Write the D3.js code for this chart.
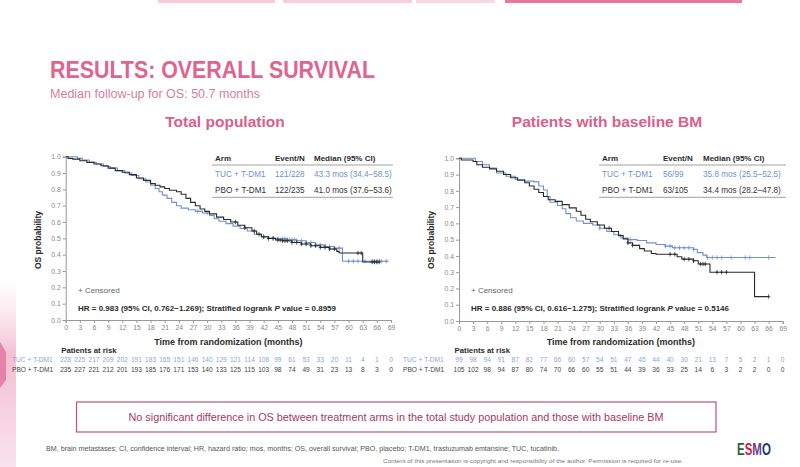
<!DOCTYPE html>
<html>
<head>
<meta charset="utf-8">
<script src="https://cdn.jsdelivr.net/npm/d3@7"></script>
<style>
  body { margin: 0; background: #fff; }
  svg { display: block; font-family: "Liberation Sans", Arial, sans-serif; }
</style>
</head>
<body>
<svg id="chart" width="800" height="467"></svg>
<script>
// Data.
const months = d3.range(0, 70, 3)

// Total population: step points [month, OS probability].
const totTuc = [[0,1],[2.5,0.99],[3.5,0.98],[5,0.965],[6.5,0.955],[8,0.94],[9.5,0.93],[11,0.915],[12.5,0.9],[14,0.885],[15.5,0.865],[17,0.845],[18,0.825],[19,0.805],[19.8,0.785],[20.5,0.765],[21.5,0.745],[22.5,0.72],[23.5,0.7],[24.5,0.685],[26,0.675],[27.5,0.665],[29,0.655],[30.5,0.64],[31.5,0.62],[32.5,0.605],[34,0.59],[35.5,0.575],[37,0.56],[38.5,0.545],[40,0.525],[41.5,0.51],[43,0.5],[45,0.497],[47,0.492],[49,0.485],[51,0.475],[53,0.46],[55,0.45],[57,0.44],[58.7,0.36],[68.5,0.36]]
const totPbo = [[0,1],[0.5,0.99],[1.5,0.985],[3,0.975],[4.5,0.965],[6,0.955],[7.5,0.945],[9,0.93],[10.5,0.915],[12,0.905],[13.5,0.89],[15,0.87],[16.5,0.855],[18,0.835],[19,0.825],[20,0.815],[21,0.805],[22,0.795],[23.5,0.785],[24.5,0.77],[25.5,0.745],[26.5,0.72],[27.5,0.7],[28.5,0.68],[29.5,0.665],[30.5,0.65],[32,0.63],[33.5,0.615],[35,0.6],[36.5,0.58],[38,0.565],[39.5,0.545],[40.5,0.525],[41.5,0.51],[43,0.5],[44.5,0.49],[46,0.485],[48,0.475],[50,0.465],[52,0.455],[54,0.445],[56,0.435],[57.5,0.42],[58,0.41],[63,0.355],[66.5,0.355]]
const totTucCens = [28,30,42,43,44,45,46,46.5,47,47.5,48,48.5,49,50,51,52,53,54,55,56,57,58,60,61,62,63.5,65,65.5,66,66.5,67,68]
const totPboCens = [36,38,40,41,42,43,44,45,45.5,46,46.5,47,48,49,50,51,52,53,54,55,56,57,62,62.7,65,65.5,66,66.5]

// Patients with baseline BM.
const bmTuc = [[0,1],[3.5,0.98],[5,0.96],[6.5,0.94],[8,0.91],[10,0.89],[12,0.87],[14,0.86],[16,0.855],[17,0.83],[18,0.805],[18.8,0.765],[19.4,0.73],[21,0.71],[22,0.69],[22.8,0.66],[23.8,0.635],[25,0.615],[26.5,0.6],[28.5,0.59],[30,0.57],[31.5,0.55],[33,0.53],[34.5,0.51],[36,0.5],[38,0.495],[40,0.48],[42,0.47],[44,0.46],[45.5,0.45],[50,0.44],[50.8,0.42],[52,0.405],[52.8,0.39],[67.5,0.39]]
const bmPbo = [[0,1],[0.5,0.99],[3,0.98],[3.8,0.96],[5,0.945],[6.5,0.935],[8,0.92],[9.5,0.9],[11,0.88],[12.5,0.865],[14,0.85],[15,0.83],[16,0.81],[17,0.79],[18,0.765],[19,0.745],[20.5,0.735],[22,0.715],[23.5,0.695],[25,0.675],[26,0.65],[27,0.625],[28,0.61],[29.5,0.59],[31,0.57],[32.5,0.55],[34,0.525],[35,0.505],[36,0.48],[37,0.465],[38.5,0.445],[39.5,0.43],[41,0.415],[42,0.41],[46.5,0.395],[47.5,0.38],[50,0.37],[51,0.35],[53.5,0.3],[63,0.15],[66,0.15]]
const bmTucCens = [30,36.5,44,45,46,47,48,49,50,53,54,55,56,58,61,62,66]
const bmPboCens = [32,36,37,45,46,48,49,50,51.5,52,52.5,55,56,57,66]

// Numbers at risk.
const totTucRisk = [228,225,217,209,202,191,183,165,151,146,140,129,121,114,108,99,61,53,33,20,11,4,1,0]
const totPboRisk = [235,227,221,212,201,193,185,176,171,153,140,133,125,115,103,98,74,49,31,23,13,8,3,0]
const bmTucRisk = [99,98,94,91,87,82,77,66,60,57,54,51,47,45,44,40,30,21,13,7,5,2,1,0]
const bmPboRisk = [105,102,98,94,87,80,74,70,66,60,55,51,44,39,36,33,25,14,6,3,2,2,0,0]

// Legend tables.
const totRows = [['TUC + T-DM1', '121/228', '43.3 mos (34.4\u201358.5)'], ['PBO + T-DM1', '122/235', '41.0 mos (37.6\u201353.6)']]
const bmRows = [['TUC + T-DM1', '56/99', '35.8 mos (25.5\u201352.5)'], ['PBO + T-DM1', '63/105', '34.4 mos (28.2\u201347.8)']]

const blue = '#6f93c9'
const dark = '#2b2b2b'
const pink = '#e0648e'

const svg = d3.select('#chart')

// Background decoration.
const defs = svg.append('defs')
const grad = defs.append('linearGradient').attr('id', 'edge').attr('x1', 0).attr('x2', 0).attr('y1', 0).attr('y2', 1)
grad.append('stop').attr('offset', '0%').attr('stop-color', '#f7d6e2').attr('stop-opacity', 0)
grad.append('stop').attr('offset', '40%').attr('stop-color', '#f3c0d3')
grad.append('stop').attr('offset', '100%').attr('stop-color', '#f9e3ec')
svg.append('rect').attr('x', 0).attr('y', 280).attr('width', 16).attr('height', 187).attr('fill', 'url(#edge)')
svg.append('path').attr('d', 'M0,342 L6,352 L6,380 L0,388 Z').attr('fill', '#e882a8')

const topBars = [[158, 275, '#f6cbda'], [283, 412, '#f5cfdc'], [416, 495, '#f7d7e3'], [505, 742, '#e8769e']]
svg.selectAll('.topbar').data(topBars).enter().append('rect')
  .attr('x', d => d[0]).attr('y', 0).attr('width', d => d[1] - d[0]).attr('height', 3)
  .attr('fill', d => d[2])

// Titles.
svg.append('text').attr('x', 50).attr('y', 78).attr('font-size', 23).attr('font-weight', 'bold')
  .attr('fill', pink).attr('textLength', 325).attr('lengthAdjust', 'spacingAndGlyphs')
  .text('RESULTS: OVERALL SURVIVAL')
svg.append('text').attr('x', 50).attr('y', 98).attr('font-size', 12.5)
  .attr('fill', '#d67ea0').attr('textLength', 210).attr('lengthAdjust', 'spacingAndGlyphs')
  .text('Median follow-up for OS: 50.7 months')

// One Kaplan-Meier panel.
function panel(opt) {
  const x = d3.scaleLinear().domain([0, 69]).range([opt.x0, opt.x1])
  const y = d3.scaleLinear().domain([0, 1]).range([opt.yb, opt.yt])

  svg.append('text').attr('x', opt.titleX).attr('y', 127).attr('text-anchor', 'middle')
    .attr('font-size', 15.5).attr('font-weight', 'bold').attr('fill', '#d9608b')
    .text(opt.title)

  const yAxis = svg.append('g').attr('transform', 'translate(' + opt.x0 + ',0)')
    .call(d3.axisLeft(y).tickValues(d3.range(0, 1.01, 0.1)).tickFormat(d3.format('.1f')).tickSize(3).tickPadding(2))
  const xAxis = svg.append('g').attr('transform', 'translate(0,' + opt.yb + ')')
    .call(d3.axisBottom(x).tickValues(months).tickSize(3).tickPadding(2))
  ;[xAxis, yAxis].forEach(a => {
    a.select('.domain').attr('stroke', '#999')
    a.selectAll('.tick line').attr('stroke', '#999')
    a.selectAll('.tick text').attr('fill', '#888').attr('font-size', 6.8)
      .attr('font-family', '"Liberation Sans", Arial, sans-serif')
  })

  svg.append('text').attr('transform', 'translate(' + opt.yLabelX + ',' + 240 + ') rotate(-90)')
    .attr('text-anchor', 'middle').attr('font-size', 8.5).attr('font-weight', 'bold').attr('fill', dark)
    .text('OS probability')
  svg.append('text').attr('x', x(34.5)).attr('y', 345).attr('text-anchor', 'middle')
    .attr('font-size', 9).attr('font-weight', 'bold').attr('fill', dark)
    .text('Time from randomization (months)')

  // Curves.
  const line = d3.line().x(d => x(d[0])).y(d => y(d[1])).curve(d3.curveStepAfter)
  const series = [[opt.tuc, opt.tucCens, blue], [opt.pbo, opt.pboCens, dark]]
  series.forEach(s => {
    svg.append('path').datum(s[0]).attr('d', line)
      .attr('fill', 'none').attr('stroke', s[2]).attr('stroke-width', 1.1)
    const surv = t => { let v = 1; s[0].forEach(p => { if (p[0] <= t) v = p[1] }); return v }
    svg.append('g').selectAll('path').data(s[1]).enter().append('path')
      .attr('d', t => 'M' + x(t) + ',' + (y(surv(t)) - 2.2) + 'v4.4M' + (x(t) - 1.6) + ',' + y(surv(t)) + 'h3.2')
      .attr('stroke', s[2]).attr('stroke-width', 0.8)
  })

  // Legend table.
  const cols = opt.cols
  svg.append('line').attr('x1', opt.tabX0).attr('x2', opt.tabX1).attr('y1', 165).attr('y2', 165).attr('stroke', '#888').attr('stroke-width', 0.8)
  svg.append('line').attr('x1', opt.tabX0).attr('x2', opt.tabX1).attr('y1', 197.3).attr('y2', 197.3).attr('stroke', '#888').attr('stroke-width', 0.8)
  ;['Arm', 'Event/N', 'Median (95% CI)'].forEach((h, i) => {
    svg.append('text').attr('x', cols[i]).attr('y', 161).attr('font-size', 8).attr('font-weight', 'bold')
      .attr('fill', dark).text(h)
  })
  opt.rows.forEach((r, j) => {
    r.forEach((c, i) => {
      svg.append('text').attr('x', cols[i]).attr('y', 177 + j * 15.7).attr('font-size', 8.2)
        .attr('fill', j === 0 ? blue : '#333').text(c)
    })
  })

  // Annotations.
  svg.append('text').attr('x', opt.noteX).attr('y', 293).attr('font-size', 8).attr('fill', '#666').text('+ Censored')
  const hr = svg.append('text').attr('x', opt.noteX).attr('y', 311).attr('font-size', 8).attr('font-weight', 'bold')
    .attr('fill', dark).attr('textLength', 258).attr('lengthAdjust', 'spacingAndGlyphs')
  hr.append('tspan').text(opt.hr + '; Stratified logrank ')
  hr.append('tspan').attr('font-style', 'italic').text('P')
  hr.append('tspan').text(' value = ' + opt.p)

  // Patients at risk.
  svg.append('text').attr('x', opt.x0 - 4.5).attr('y', 352.7).attr('font-size', 7.8).attr('font-weight', 'bold')
    .attr('fill', dark).text('Patients at risk')
  const riskRows = [['TUC + T-DM1', opt.tucRisk, '#8aa7d3', 362.3], ['PBO + T-DM1', opt.pboRisk, '#444', 371.7]]
  riskRows.forEach(r => {
    svg.append('text').attr('x', opt.riskLabelX).attr('y', r[3]).attr('font-size', 6.6).attr('fill', r[2]).text(r[0])
    svg.append('g').selectAll('text').data(r[1]).enter().append('text')
      .attr('x', (d, i) => x(months[i])).attr('y', r[3]).attr('text-anchor', 'middle')
      .attr('font-size', 6.6).attr('fill', r[2]).text(d => d)
  })
}

panel({
  x0: 65.7, x1: 391, yt: 156.7, yb: 320, title: 'Total population', titleX: 225, yLabelX: 41,
  tuc: totTuc, pbo: totPbo, tucCens: totTucCens, pboCens: totPboCens,
  tabX0: 212, tabX1: 393, cols: [215, 275, 314], rows: totRows, noteX: 78,
  hr: 'HR = 0.983 (95% CI, 0.762\u22121.269)', p: '0.8959',
  tucRisk: totTucRisk, pboRisk: totPboRisk, riskLabelX: 12
})
panel({
  x0: 459, x1: 782.7, yt: 158.3, yb: 321, title: 'Patients with baseline BM', titleX: 607, yLabelX: 434,
  tuc: bmTuc, pbo: bmPbo, tucCens: bmTucCens, pboCens: bmPboCens,
  tabX0: 599, tabX1: 786, cols: [602, 663, 703], rows: bmRows, noteX: 471,
  hr: 'HR = 0.886 (95% CI, 0.616\u22121.275)', p: '0.5146',
  tucRisk: bmTucRisk, pboRisk: bmPboRisk, riskLabelX: 403
})

// Conclusion box.
svg.append('rect').attr('x', 76.5).attr('y', 402).attr('width', 639.5).attr('height', 30)
  .attr('fill', '#fff').attr('stroke', '#b8557a').attr('stroke-width', 1.2)
svg.append('text').attr('x', 396).attr('y', 421).attr('text-anchor', 'middle').attr('font-size', 11.5)
  .attr('fill', '#a8385f').attr('textLength', 535).attr('lengthAdjust', 'spacingAndGlyphs')
  .text('No significant difference in OS between treatment arms in the total study population and those with baseline BM')

// Footnotes.
svg.append('text').attr('x', 46).attr('y', 451).attr('font-size', 7).attr('fill', '#555')
  .attr('textLength', 513).attr('lengthAdjust', 'spacingAndGlyphs')
  .text('BM, brain metastases; CI, confidence interval; HR, hazard ratio; mos, months; OS, overall survival; PBO, placebo; T-DM1, trastuzumab emtansine; TUC, tucatinib.')
svg.append('text').attr('x', 383).attr('y', 463).attr('font-size', 5.5).attr('fill', '#777')
  .attr('textLength', 300).attr('lengthAdjust', 'spacingAndGlyphs')
  .text('Content of this presentation is copyright and responsibility of the author. Permission is required for re-use.')

// ESMO logo (condensed by a horizontal scale).
const logo = [['E', '#2f5f3a'], ['S', '#c4283f'], ['M', '#6c3d8c'], ['O', '#1f3a6e']]
const logoText = svg.append('text').attr('transform', 'translate(737,455) scale(0.72,1)')
  .attr('font-size', 16).attr('font-weight', 'bold')
logoText.selectAll('tspan').data(logo).enter().append('tspan')
  .attr('fill', d => d[1]).text(d => d[0])
</script>
</body>
</html>
